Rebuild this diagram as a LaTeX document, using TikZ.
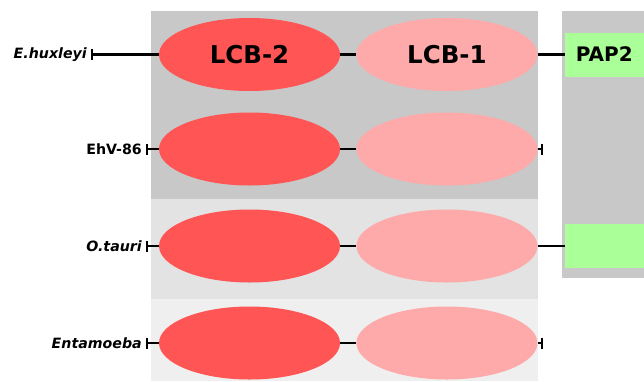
\documentclass[tikz,border=0pt]{standalone}
\usepackage{fontspec}
\setmainfont{DejaVu Sans}
\usetikzlibrary{positioning, arrows.meta, shapes.geometric}
\definecolor{lcbred}{HTML}{FF5555}
\definecolor{lcbpink}{HTML}{FFAAAA}
\definecolor{papgreen}{HTML}{AAFF99}
\definecolor{paneldark}{HTML}{C8C8C8}
\definecolor{panelmid}{HTML}{E3E3E3}
\definecolor{panellight}{HTML}{EFEFEF}

\begin{document}
\begin{tikzpicture}[x=1pt, y=-1pt,
		lcbtwo/.style={ellipse, fill=lcbred, minimum width=181pt, minimum height=73pt, inner sep=0pt, font=\bfseries\fontsize{24.5}{24.5}\selectfont},
		lcbone/.style={lcbtwo, fill=lcbpink},
		pap/.style={rectangle, fill=papgreen, minimum width=79pt, minimum height=44pt, inner sep=0pt, font=\bfseries\fontsize{20}{20}\selectfont},
		species/.style={anchor=east, inner sep=4pt, font=\bfseries\fontsize{14.2}{14.2}\selectfont},
		link/.style={draw, line width=2.1pt},
		node distance=16pt]
		\useasboundingbox (0,0) rectangle (644,381);
		% panels
		\fill[paneldark] (151,11) rectangle (538,199);
		\fill[panelmid] (151,199) rectangle (538,299);
		\fill[panellight] (151,299) rectangle (538,381);
		\fill[paneldark] (562,11) rectangle (644,278);
		
		\node[lcbtwo](huxB) at (249.5,54.5) {LCB-2};
		\node[lcbone, right=of huxB] (huxA) {LCB-1};
		\node[pap, right=27pt of huxA] (huxP) {PAP2};
		\coordinate[right=10pt of huxP] (huxOut);
		\node[species] (huxL) at (91,54.5) {\itshape E.huxleyi};
		
		\node[lcbtwo](ehvB) at (249.5,149) {};
		\node[lcbone, right=of ehvB] (ehvA) {};
		\coordinate[right=5pt of ehvA] (ehvEnd);
		\node[species] (ehvL) at (146,149) {EhV-86};
		
		\node[lcbtwo](otaB) at (249.5,246) {};
		\node[lcbone, right=of otaB] (otaA) {};
		\node[pap, right=27pt of otaA] (otaP) {};
		\coordinate[right=10pt of otaP] (otaOut);
		\node[species] (otaL) at (146,246) {\itshape O.tauri};
		
		\node[lcbtwo](entB) at (249.5,343) {};
		\node[lcbone, right=of entB] (entA) {};
		\coordinate[right=5pt of entA] (entEnd);
		\node[species] (entL) at (146,343) {\itshape Entamoeba};
		
		\path[link, {Bar[width=11pt]}-] (huxL.east) -- (huxB.west);
		\path[link] (huxB) -- (huxA);
		\path[link] (huxA) -- (huxP);
		\path[link] (huxP.east) -- (huxOut);
		
		\path[link, {Bar[width=11pt]}-] (ehvL.east) -- (ehvB.west);
		\path[link] (ehvB) -- (ehvA);
		\path[link, -{Bar[width=11pt]}] (ehvA.east) -- (ehvEnd);
		
		\path[link, {Bar[width=11pt]}-] (otaL.east) -- (otaB.west);
		\path[link] (otaB) -- (otaA);
		\path[link] (otaA) -- (otaP);
		\path[link] (otaP.east) -- (otaOut);
		
		\path[link, {Bar[width=11pt]}-] (entL.east) -- (entB.west);
		\path[link] (entB) -- (entA);
		\path[link, -{Bar[width=11pt]}] (entA.east) -- (entEnd);
	\end{tikzpicture}
\end{document}
